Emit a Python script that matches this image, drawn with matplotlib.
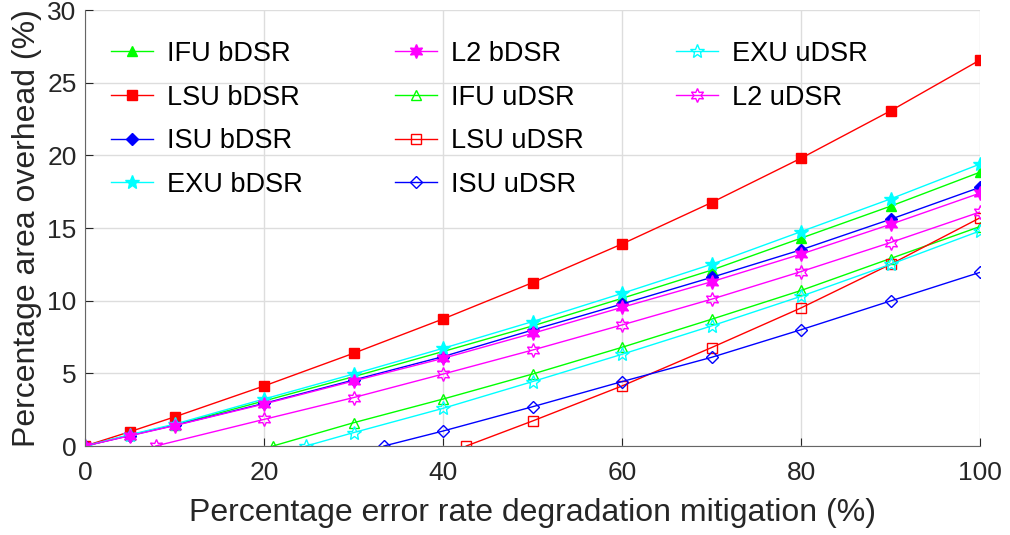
import matplotlib
matplotlib.use('Agg')
import matplotlib.pyplot as plt
from matplotlib.lines import Line2D

plt.rcParams['font.family'] = ['Liberation Sans', 'DejaVu Sans']

# bDSR series share the same x points
x_b = [0, 5, 10, 20, 30, 40, 50, 60, 70, 80, 90, 100]
ifu_b = [0, 0.75, 1.45, 3.10, 4.77, 6.50, 8.26, 10.16, 12.1, 14.3, 16.5, 18.84]
lsu_b = [0, 0.98, 2.00, 4.13, 6.38, 8.74, 11.24, 13.9, 16.75, 19.8, 23.06, 26.56]
isu_b = [0, 0.72, 1.42, 2.93, 4.54, 6.15, 7.98, 9.77, 11.6, 13.5, 15.6, 17.8]
exu_b = [0, 0.78, 1.50, 3.23, 4.95, 6.72, 8.56, 10.5, 12.5, 14.75, 17.0, 19.4]
l2_b = [0, 0.70, 1.40, 2.89, 4.47, 6.03, 7.75, 9.54, 11.3, 13.2, 15.25, 17.4]

# uDSR series start where the overhead crosses zero
x_ifu_u = [21.0, 30, 40, 50, 60, 70, 80, 90, 100]
ifu_u = [0, 1.60, 3.23, 4.95, 6.79, 8.72, 10.7, 12.9, 15.1]
x_lsu_u = [42.6, 50, 60, 70, 80, 90, 100]
lsu_u = [0, 1.72, 4.13, 6.77, 9.5, 12.5, 15.7]
x_isu_u = [33.4, 40, 50, 60, 70, 80, 90, 100]
isu_u = [0, 1.03, 2.70, 4.43, 6.10, 8.0, 9.98, 11.95]
x_exu_u = [24.7, 30, 40, 50, 60, 70, 80, 90, 100]
exu_u = [0, 0.92, 2.59, 4.43, 6.31, 8.26, 10.3, 12.5, 14.8]
x_l2_u = [7.9, 20, 30, 40, 50, 60, 70, 80, 90, 100]
l2_u = [0, 1.83, 3.33, 4.95, 6.60, 8.33, 10.1, 12.0, 14.0, 16.1]

hexagram = (6, 1, 0)

series = [
    (x_b, ifu_b, 'IFU bDSR', '#00ff00', '^', True),
    (x_b, lsu_b, 'LSU bDSR', '#ff0000', 's', True),
    (x_b, isu_b, 'ISU bDSR', '#0000ff', 'D', True),
    (x_b, exu_b, 'EXU bDSR', '#00ffff', '*', True),
    (x_b, l2_b, 'L2 bDSR', '#ff00ff', hexagram, True),
    (x_ifu_u, ifu_u, 'IFU uDSR', '#00ff00', '^', False),
    (x_lsu_u, lsu_u, 'LSU uDSR', '#ff0000', 's', False),
    (x_isu_u, isu_u, 'ISU uDSR', '#0000ff', 'D', False),
    (x_exu_u, exu_u, 'EXU uDSR', '#00ffff', '*', False),
    (x_l2_u, l2_u, 'L2 uDSR', '#ff00ff', hexagram, False),
]

fig = plt.figure(figsize=(10.1, 5.35), dpi=100)
ax = fig.add_axes([85/1010, 1 - 446/535, 895/1010, 436/535])

handles = []
for xs, ys, name, col, mk, filled in series:
    ms = 7.5
    if mk == 'D':
        ms = 6.5
    if mk == '*' or mk == hexagram:
        ms = 10
    h, = ax.plot(xs, ys, color=col, lw=1, marker=mk, markersize=ms,
                 markerfacecolor=col if filled else 'none',
                 markeredgecolor=col, markeredgewidth=1, label=name)
    handles.append(h)

# two blank entries so the legend columns split 4 / 4 / 2
blank = Line2D([], [], color='none')
handles = handles + [blank, blank]
labels = [h.get_label() for h in handles[:10]] + ['', '']

ax.legend(handles, labels, ncol=3, frameon=False, loc='upper left',
          bbox_to_anchor=(0.029, 0.929), fontsize=19.5, handlelength=1.55,
          handletextpad=0.52, columnspacing=3.4, labelspacing=0.65,
          borderaxespad=0, borderpad=0)

ax.set_xlim(0, 100)
ax.set_ylim(0, 30)
ax.set_xticks([0, 20, 40, 60, 80, 100])
ax.set_yticks([0, 5, 10, 15, 20, 25, 30])
ax.grid(True, color='#dddddd', lw=1)
ax.set_axisbelow(True)
ax.tick_params(direction='in', labelsize=19, colors='#262626', length=6)
ax.tick_params(axis='x', pad=11)
ax.tick_params(axis='y', pad=6)
for side in ['top', 'right']:
    ax.spines[side].set_visible(False)
for side in ['left', 'bottom']:
    ax.spines[side].set_color('#666666')
ax.set_xlabel('Percentage error rate degradation mitigation (%)', fontsize=23, color='#262626', labelpad=9)
ax.set_ylabel('Percentage area overhead (%)', fontsize=23, color='#262626', labelpad=4)

fig.savefig('out.png', dpi=100)
